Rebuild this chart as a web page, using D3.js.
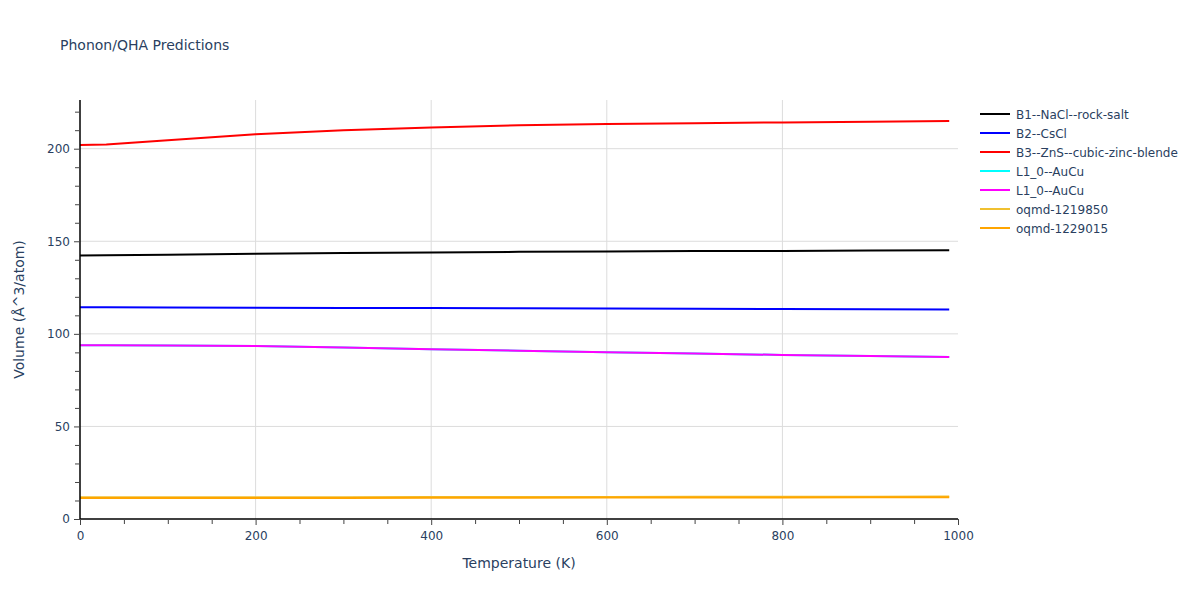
<!DOCTYPE html>
<html>
<head>
<meta charset="utf-8">
<script src="https://cdn.jsdelivr.net/npm/d3@7"></script>
<style>
  html, body { margin: 0; padding: 0; background: #fff; }
  svg { display: block; font-family: "DejaVu Sans", verdana, arial, sans-serif; }
</style>
</head>
<body>
<svg id="chart" width="1200" height="600"></svg>
<script>
const temperatures = [0, 30, 100, 200, 300, 400, 500, 600, 700, 800, 900, 990];
const seriesNames = ["B1--NaCl--rock-salt", "B2--CsCl", "B3--ZnS--cubic-zinc-blende", "L1_0--AuCu", "L1_0--AuCu", "oqmd-1219850", "oqmd-1229015"];
const seriesColors = ["#000000", "#0000ff", "#ff0000", "#00ffff", "#ff00ff", "#f0c030", "#ffa500"];
const b1Values = [142.3, 142.4, 142.7, 143.2, 143.6, 144.0, 144.3, 144.5, 144.7, 144.8, 145.0, 145.1];
const b2Values = [114.3, 114.3, 114.2, 114.1, 114.0, 113.9, 113.8, 113.7, 113.6, 113.4, 113.3, 113.2];
const b3Values = [202.0, 202.3, 204.5, 207.8, 210.0, 211.5, 212.6, 213.3, 213.8, 214.2, 214.6, 215.0];
const l10aValues = [93.8, 93.8, 93.7, 93.4, 92.6, 91.7, 90.9, 90.1, 89.4, 88.6, 88.0, 87.5];
const l10bValues = [93.8, 93.8, 93.7, 93.4, 92.6, 91.7, 90.9, 90.1, 89.4, 88.6, 88.0, 87.5];
const oqmd1Values = [11.7, 11.7, 11.7, 11.8, 11.8, 11.9, 11.9, 11.9, 12.0, 12.0, 12.0, 12.1];
const oqmd2Values = [11.3, 11.3, 11.3, 11.4, 11.4, 11.5, 11.5, 11.6, 11.6, 11.6, 11.7, 11.8];
const xTicks = [0, 200, 400, 600, 800, 1000];
const yTicks = [0, 50, 100, 150, 200];
const title = "Phonon/QHA Predictions";
const xTitle = "Temperature (K)";
const yTitle = "Volume (Å^3/atom)";

const allValues = [b1Values, b2Values, b3Values, l10aValues, l10bValues, oqmd1Values, oqmd2Values];
const drawOrder = [0, 1, 2, 3, 4, 5, 6];

const svg = d3.select("#chart");
const margin = {left: 80, right: 242, top: 100, bottom: 81};
const W = 1200, H = 600;
const x = d3.scaleLinear().domain([0, 1000]).range([margin.left, W - margin.right]);
const y = d3.scaleLinear().domain([0, 226.3]).range([H - margin.bottom, margin.top]);
const textColor = "#2a3f5f";
const fontFam = '"DejaVu Sans", verdana, arial, sans-serif';

// grid
const g = svg.append("g");
g.selectAll(".xg").data(xTicks.filter(d => d > 0 && d < 1000)).enter().append("line")
  .attr("x1", d => x(d)).attr("x2", d => x(d)).attr("y1", y.range()[0]).attr("y2", y.range()[1])
  .attr("stroke", "#dcdcdc").attr("stroke-width", 1);
g.selectAll(".yg").data(yTicks.filter(d => d > 0)).enter().append("line")
  .attr("x1", x.range()[0]).attr("x2", x.range()[1]).attr("y1", d => y(d)).attr("y2", d => y(d))
  .attr("stroke", "#dcdcdc").attr("stroke-width", 1);

// lines
const line = d3.line().x((d, i) => x(temperatures[i])).y(d => y(d));
drawOrder.forEach(i => {
  svg.append("path").datum(allValues[i]).attr("d", line)
    .attr("fill", "none").attr("stroke", seriesColors[i]).attr("stroke-width", 2)
    .attr("stroke-linejoin", "round");
});

// axes
const xAxis = svg.append("g").attr("transform", `translate(0,${y(0)})`)
  .call(d3.axisBottom(x).tickValues(xTicks).tickSize(6).tickPadding(6).tickFormat(d3.format("d")));
const xMinor = svg.append("g").attr("transform", `translate(0,${y(0)})`)
  .call(d3.axisBottom(x).tickValues(d3.range(50, 1000, 50).filter(d => d % 200 !== 0)).tickSize(5).tickFormat(""));
const yAxis = svg.append("g").attr("transform", `translate(${x(0)},0)`)
  .call(d3.axisLeft(y).tickValues(yTicks).tickSize(6).tickPadding(4).tickFormat(d3.format("d")));
const yMinor = svg.append("g").attr("transform", `translate(${x(0)},0)`)
  .call(d3.axisLeft(y).tickValues(d3.range(10, 226, 10).filter(d => d % 50 !== 0)).tickSize(5).tickFormat(""));
[xAxis, xMinor, yAxis, yMinor].forEach(a => {
  a.select(".domain").attr("stroke", "#000").attr("stroke-width", 1.5);
  a.selectAll(".tick line").attr("stroke", "#444");
  a.selectAll(".tick text").attr("fill", textColor).attr("font-size", 12).attr("font-family", fontFam);
});
xAxis.select(".domain").attr("d", `M${x(0)},0H${x(1000)}`);
yAxis.select(".domain").attr("d", `M0,${y(0)}V${margin.top}`);
xMinor.select(".domain").remove();
yMinor.select(".domain").remove();

// titles
svg.append("text").attr("x", 60).attr("y", 50).text(title)
  .attr("fill", textColor).attr("font-size", 14);
svg.append("text").attr("x", (x(0) + x(1000)) / 2).attr("y", 568).attr("text-anchor", "middle")
  .text(xTitle).attr("fill", textColor).attr("font-size", 14);
svg.append("text").attr("transform", `translate(24,${(y(0) + y(226.3)) / 2}) rotate(-90)`)
  .attr("text-anchor", "middle").text(yTitle).attr("fill", textColor).attr("font-size", 14);

// legend
const leg = svg.append("g").attr("transform", "translate(980,114)");
seriesNames.forEach((n, i) => {
  const r = leg.append("g").attr("transform", `translate(0,${i * 19})`);
  r.append("line").attr("x1", 0).attr("x2", 30).attr("y1", 0).attr("y2", 0)
    .attr("stroke", seriesColors[i]).attr("stroke-width", 2);
  r.append("text").attr("x", 36).attr("y", 4.5).text(n).attr("fill", textColor).attr("font-size", 12);
});
</script>
</body>
</html>
